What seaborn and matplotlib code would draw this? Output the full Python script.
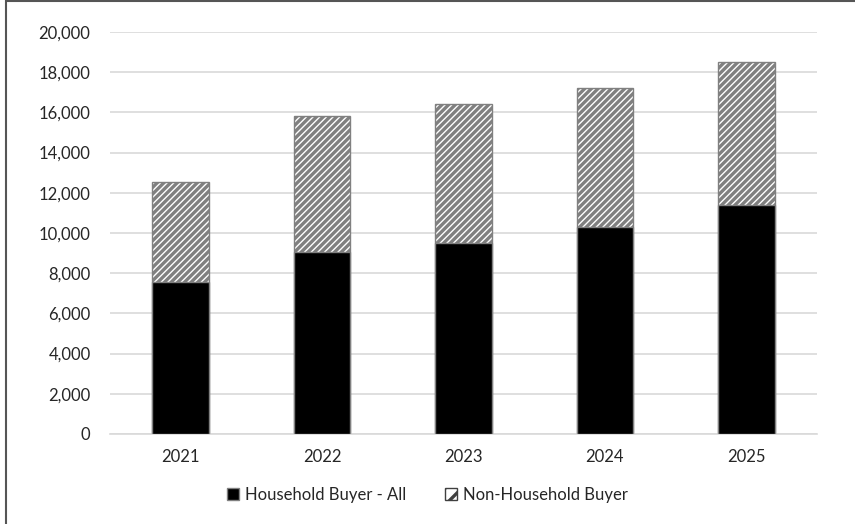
import matplotlib
matplotlib.use("Agg")
import matplotlib.pyplot as plt
import seaborn as sns
import pandas as pd
from matplotlib.patches import Rectangle, Patch
from matplotlib.ticker import FuncFormatter

years = ["2021", "2022", "2023", "2024", "2025"]
household = [7550, 9070, 9490, 10280, 11390]
non_household = [5000, 6730, 6930, 6920, 7100]
totals = [h + n for h, n in zip(household, non_household)]

sns.set_theme(style="white")
plt.rcParams["font.family"] = ["Lato", "DejaVu Sans"]
plt.rcParams["hatch.linewidth"] = 2.4
plt.rcParams["hatch.color"] = "black"

text_color = "#262626"
grid_color = "#d9d9d9"

fig = plt.figure(figsize=(8.55, 5.24), dpi=100)
ax = fig.add_axes([110 / 855, 1 - 434 / 524, (817 - 110) / 855, (434 - 32) / 524])

df = pd.DataFrame({"year": years, "household": household, "total": totals})

# total bar (hatched) drawn first, household bar (solid) on top
sns.barplot(data=df, x="year", y="total", color="white", width=0.4,
            edgecolor="#808080", linewidth=1.0, hatch="/////", ax=ax, zorder=2)
sns.barplot(data=df, x="year", y="household", color="black", width=0.4,
            edgecolor="#808080", linewidth=1.0, ax=ax, zorder=3)

ax.set_ylim(0, 20000)
ax.set_yticks(range(0, 20001, 2000))
ax.yaxis.set_major_formatter(FuncFormatter(lambda v, p: f"{int(v):,}"))
ax.grid(axis="y", color=grid_color, linewidth=1.2, zorder=0)
ax.set_axisbelow(True)
for side in ["top", "right", "left"]:
    ax.spines[side].set_visible(False)
ax.spines["bottom"].set_color(grid_color)
ax.spines["bottom"].set_linewidth(1.2)
ax.set_xlabel("")
ax.set_ylabel("")
ax.tick_params(axis="both", length=0, labelsize=12, colors=text_color)
ax.tick_params(axis="y", pad=14)
ax.tick_params(axis="x", pad=11)

handles = [
    Patch(facecolor="black", edgecolor="#808080", label="Household Buyer - All"),
    Patch(facecolor="white", edgecolor="#404040", hatch="//", label="Non-Household Buyer"),
]
fig.legend(handles=handles, loc="center", bbox_to_anchor=(0.5, 1 - 495 / 524),
           ncol=2, frameon=False, fontsize=12, handlelength=0.75, handleheight=0.75,
           handletextpad=0.35, columnspacing=2.3, labelcolor=text_color)

# outer frame
fig.patches.append(Rectangle((5.5 / 855, -0.1), 1.2, 1 - 1.5 / 524 + 0.1,
                             transform=fig.transFigure, fill=False,
                             edgecolor="#555555", linewidth=1.5))

fig.savefig("out.png", dpi=100)
